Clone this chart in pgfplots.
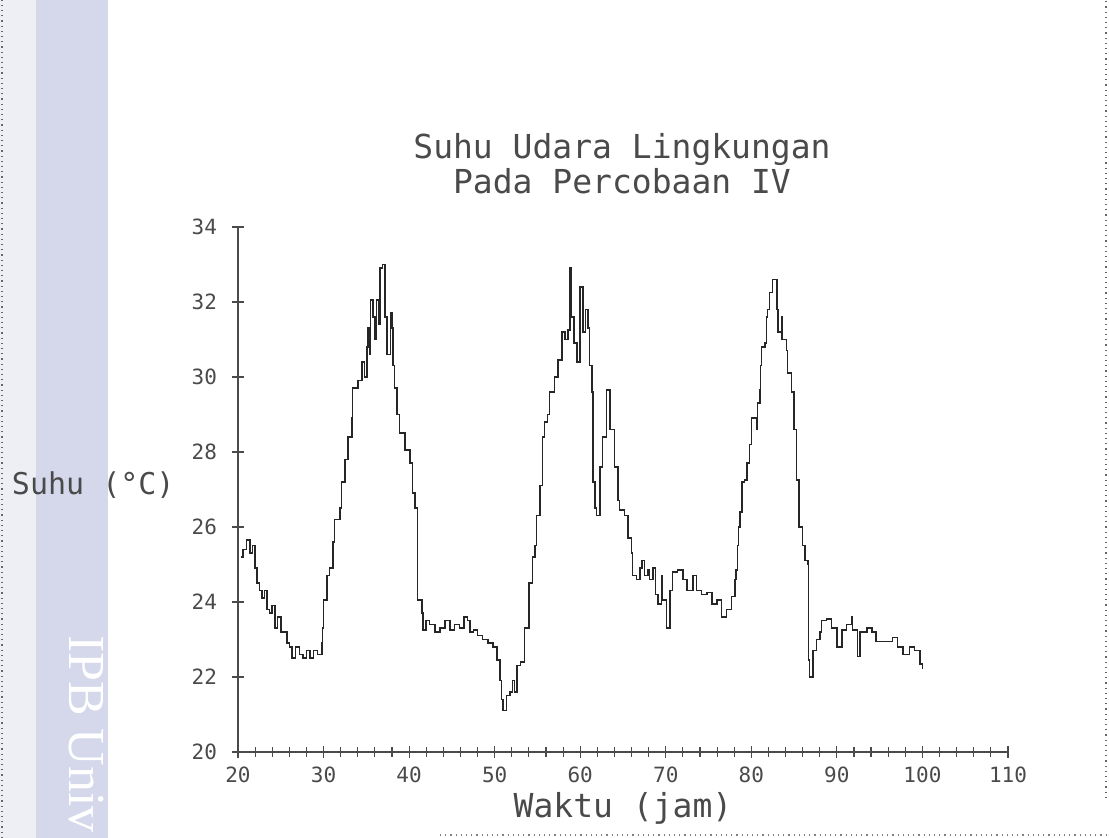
\documentclass[border=0pt]{standalone}
\usepackage{fontspec}
\setmainfont{DejaVu Sans Mono}
\newfontfamily\serifw{Liberation Serif}
\usepackage{pgfplots}
\pgfplotsset{compat=1.18}
\usepackage{pgfplotstable}
\definecolor{band}{HTML}{D4D8EA}
\definecolor{bandlight}{HTML}{EDEFF5}
\definecolor{ink}{HTML}{4A4A4A}

\pgfplotstableread{
h T
20.4 25.2
20.6 25.4
21.0 25.65
21.4 25.3
21.7 25.5
22.0 24.9
22.2 24.5
22.5 24.3
22.8 24.1
23.1 24.3
23.4 23.8
23.7 23.7
24.0 23.9
24.3 23.3
24.6 23.6
25.0 23.2
25.3 23.2
25.7 22.9
26.0 22.8
26.3 22.5
26.7 22.8
27.2 22.6
27.6 22.5
28.0 22.7
28.4 22.5
28.8 22.7
29.3 22.6
29.8 22.9
29.9 23.3
30.0 24.05
30.4 24.7
30.7 24.9
31.1 25.6
31.3 26.2
31.9 26.5
32.1 27.2
32.5 27.8
32.85 28.4
33.3 28.9
33.4 29.7
34.0 29.9
34.5 30.4
34.8 30.0
35.1 30.8
35.2 31.3
35.4 30.6
35.5 32.05
35.8 31.6
36.0 31.0
36.2 32.05
36.4 31.4
36.6 32.9
36.9 33.0
37.2 31.6
37.4 30.6
37.8 31.7
38.0 31.3
38.1 30.3
38.3 29.7
38.6 29.0
38.9 28.5
39.5 28.05
40.1 27.7
40.4 26.9
40.7 26.5
41.0 24.05
41.5 23.7
41.6 23.25
42.0 23.5
42.4 23.4
43.0 23.2
43.6 23.3
44.2 23.5
44.8 23.25
45.3 23.4
45.9 23.3
46.4 23.6
46.8 23.5
47.1 23.2
47.5 23.25
48.0 23.1
48.6 23.0
49.2 22.9
49.8 22.8
50.3 22.45
50.6 21.9
50.8 21.4
51.0 21.1
51.4 21.5
51.8 21.6
52.1 21.9
52.3 21.6
52.6 22.3
53.0 22.4
53.5 23.3
54.0 24.5
54.4 25.2
54.7 25.5
54.9 26.3
55.3 27.1
55.6 28.4
55.8 28.8
56.2 29.0
56.4 29.6
57.0 30.0
57.4 30.45
57.9 31.2
58.2 31.0
58.6 31.25
58.8 32.9
59.0 31.6
59.3 30.9
59.6 30.4
60.0 32.4
60.3 31.2
60.6 31.8
60.9 31.3
61.1 30.3
61.4 29.6
61.5 27.2
61.7 26.5
61.9 26.3
62.3 27.6
62.6 28.4
63.1 29.65
63.5 28.6
64.0 27.6
64.4 26.7
64.6 26.45
65.2 26.3
65.6 25.7
66.0 25.3
66.1 24.7
66.6 24.6
67.0 24.9
67.2 25.1
67.5 24.7
67.9 24.85
68.1 24.6
68.5 24.9
68.8 24.2
69.1 23.95
69.5 24.7
69.6 24.05
70.1 23.3
70.5 24.3
70.8 24.8
71.4 24.85
72.0 24.6
72.5 24.3
73.2 24.7
73.6 24.3
74.2 24.2
74.8 24.25
75.4 23.95
76.0 24.05
76.5 23.6
77.1 23.8
77.7 24.15
78.1 24.6
78.2 24.85
78.4 25.5
78.5 26.0
78.7 26.4
78.9 27.2
79.2 27.25
79.5 27.7
79.8 28.2
80.0 28.9
80.6 28.6
80.7 29.3
81.0 29.65
81.1 30.3
81.2 30.8
81.6 30.9
81.8 31.6
81.9 31.8
82.1 32.25
82.5 32.6
83.0 31.8
83.1 31.2
83.5 31.6
83.6 31.0
84.1 30.7
84.2 30.1
84.7 29.6
85.0 28.6
85.3 27.25
85.6 26.0
86.0 25.5
86.3 25.1
86.6 25.0
86.7 22.45
86.8 22.0
87.2 22.7
87.6 23.0
88.0 23.2
88.2 23.5
88.8 23.55
89.4 23.3
90.0 22.8
90.6 23.25
91.1 23.4
91.7 23.6
91.8 23.25
92.4 22.55
92.7 23.2
93.5 23.3
94.1 23.2
94.6 22.95
95.6 22.95
96.5 23.05
97.1 22.8
97.7 22.6
98.5 22.8
99.1 22.7
99.7 22.35
100.0 22.2
}\suhu

\begin{document}
\begin{tikzpicture}
\useasboundingbox (0,0) rectangle (554.5pt,419pt);
\fill[bandlight] (0,0) rectangle (18pt,419pt);
\fill[band] (18pt,0) rectangle (54pt,419pt);
\node[rotate=-90, anchor=west, text=white, font=\serifw\fontsize{26}{26}\selectfont] at (43pt,105pt) {IPB Univ};
\draw[black!60, dotted, line width=0.6pt] (1pt,0) -- (1pt,419pt);
\draw[black!60, dotted, line width=0.6pt] (553pt,20pt) -- (553pt,419pt);
\draw[black!50, dotted, line width=0.6pt] (220pt,1.5pt) -- (554pt,1.5pt);

\node[text=ink, font=\fontsize{16.5}{17.5}\selectfont, align=center] at (311pt,337pt) {Suhu Udara Lingkungan\\Pada Percobaan IV};

\begin{axis}[
  at={(119pt,43pt)}, anchor=south west,
  scale only axis, width=385pt, height=262.5pt,
  xmin=20, xmax=110, ymin=20, ymax=34,
  axis lines=left, axis line style={-, ink, line width=0.6pt},
  xtick={20,30,...,110}, ytick={20,22,...,34},
  minor x tick num=4,
  tick align=center,
  major tick length=6pt, minor tick length=5pt,
  tick style={ink, line width=0.6pt},
  ticklabel style={text=ink, font=\fontsize{10.5}{11}\selectfont},
  /pgf/number format/assume math mode=true,
  xticklabel style={yshift=-1pt},
  yticklabel style={xshift=-4pt},
  xlabel={Waktu (jam)},
  ylabel={Suhu (°C)},
  every axis x label/.style={at={(axis description cs:0.5,-0.107)}, anchor=center, text=ink, font=\fontsize{16.5}{17}\selectfont},
  every axis y label/.style={at={(axis description cs:-0.188,0.509)}, anchor=center, text=ink, font=\fontsize{15}{16}\selectfont},
  clip=false,
]
\addplot[const plot, black!85, line width=0.75pt] table[x=h, y=T] {\suhu};
\end{axis}
\end{tikzpicture}
\end{document}
